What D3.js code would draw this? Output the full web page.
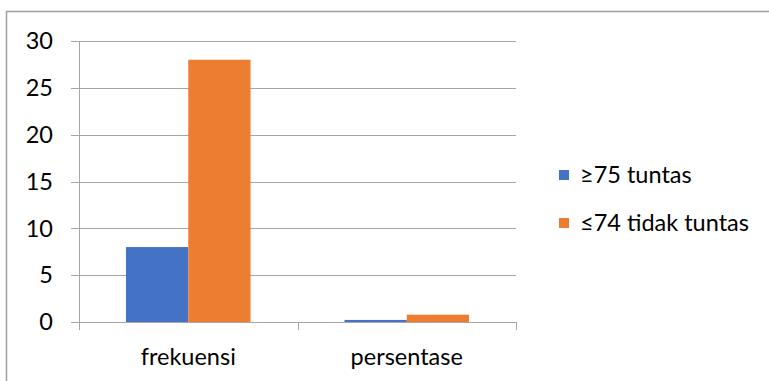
<!DOCTYPE html>
<html>
<head>
<meta charset="utf-8">
<script src="https://cdn.jsdelivr.net/npm/d3@7"></script>
<style>
  body { margin: 0; background: #fff; }
  text { font-family: "Lato", "Open Sans", sans-serif; fill: #000; }
</style>
</head>
<body>
<div id="chart"></div>
<script>
var categories = ["frekuensi", "persentase"]
var seriesNames = ["\u226575 tuntas", "\u226474 tidak tuntas"]
var tuntasValues = [8, 0.22]
var tidakTuntasValues = [28, 0.78]
var yTicks = [0, 5, 10, 15, 20, 25, 30]
var colors = ["#4472C4", "#ED7D31"]

var outerWidth = 769, outerHeight = 381
var margins = {top: 41, left: 79, right: 253, bottom: 59}
var innerWidth = outerWidth - margins.left - margins.right
var innerHeight = outerHeight - margins.top - margins.bottom
var fontSize = "23.5px"

var svg = d3.select("#chart").append("svg")
    .attr("width", outerWidth)
    .attr("height", outerHeight)

// chart frame (runs off the right and bottom edges)
svg.append("path")
    .attr("d", "M6.5,381V11.5H769")
    .attr("fill", "none")
    .attr("stroke", "#a0a0a0")
    .attr("stroke-width", 1.5)

var plot = svg.append("g")
    .attr("transform", "translate(" + margins.left + "," + margins.top + ")")

var xScale = d3.scaleBand().domain(categories).range([0, innerWidth]).paddingInner(0).paddingOuter(0)
var xInner = d3.scaleBand().domain(seriesNames).range([0, xScale.bandwidth()]).paddingInner(0).paddingOuter(0.754)
var yScale = d3.scaleLinear().domain([0, 30]).range([innerHeight, 0])

// gridlines
plot.selectAll(".grid")
    .data(yTicks)
    .enter()
    .append("line")
    .attr("x1", -8)
    .attr("x2", innerWidth)
    .attr("y1", function(d) { return Math.round(yScale(d)) + 0.5 })
    .attr("y2", function(d) { return Math.round(yScale(d)) + 0.5 })
    .style("stroke", "#a6a6a6")
    .style("stroke-width", 1)

// y axis line
plot.append("line")
    .attr("x1", 0.5).attr("x2", 0.5)
    .attr("y1", 0).attr("y2", innerHeight)
    .style("stroke", "#a6a6a6")

// x axis ticks at category boundaries
var boundaries = [0, xScale.bandwidth(), innerWidth]
plot.selectAll(".xtick")
    .data(boundaries)
    .enter()
    .append("line")
    .attr("x1", function(d) { return Math.round(d) + 0.5 })
    .attr("x2", function(d) { return Math.round(d) + 0.5 })
    .attr("y1", innerHeight)
    .attr("y2", innerHeight + 8)
    .style("stroke", "#a6a6a6")

var rows = []
categories.forEach(function(c, i) {
    rows.push({cat: c, series: seriesNames[0], value: tuntasValues[i], color: colors[0]})
    rows.push({cat: c, series: seriesNames[1], value: tidakTuntasValues[i], color: colors[1]})
})

plot.selectAll(".bar")
    .data(rows)
    .enter()
    .append("rect")
    .attr("x", function(d) { return xScale(d.cat) + xInner(d.series) })
    .attr("y", function(d) { return yScale(d.value) })
    .attr("width", xInner.bandwidth())
    .attr("height", function(d) { return innerHeight - yScale(d.value) })
    .style("fill", function(d) { return d.color })

// y tick labels
plot.selectAll(".ylabel")
    .data(yTicks)
    .enter()
    .append("text")
    .attr("x", -26)
    .attr("y", function(d) { return yScale(d) })
    .attr("dy", "0.35em")
    .attr("text-anchor", "end")
    .attr("font-size", fontSize)
    .text(function(d) { return d })

// category labels
plot.selectAll(".xlabel")
    .data(categories)
    .enter()
    .append("text")
    .attr("x", function(d) { return xScale(d) + xScale.bandwidth() / 2 })
    .attr("y", innerHeight + 43)
    .attr("text-anchor", "middle")
    .attr("font-size", fontSize)
    .text(function(d) { return d })

// legend
var legend = svg.selectAll(".legend")
    .data(seriesNames)
    .enter()
    .append("g")
    .attr("transform", function(d, i) { return "translate(559," + (170 + i * 48) + ")" })

legend.append("rect")
    .attr("width", 10).attr("height", 10)
    .style("fill", function(d, i) { return colors[i] })

legend.append("text")
    .attr("x", 21)
    .attr("y", 5)
    .attr("dy", "0.35em")
    .attr("font-size", fontSize)
    .text(function(d) { return d })
</script>
</body>
</html>
